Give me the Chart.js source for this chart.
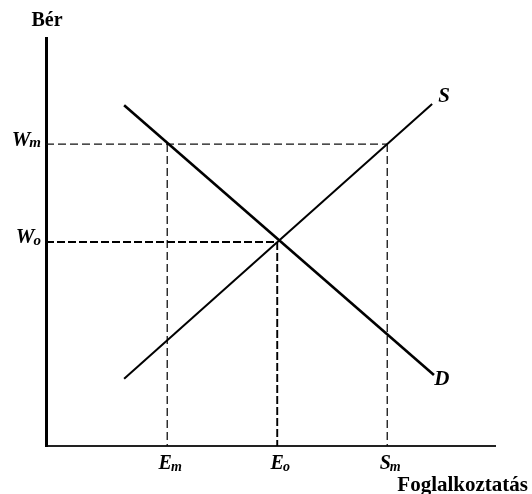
<!DOCTYPE html>
<html><head><meta charset="utf-8">
<script src="https://cdn.jsdelivr.net/npm/chart.js@4"></script>
<style>html,body{margin:0;padding:0;background:#fff}#wrap{width:532px;height:494px}</style>
</head><body><div id="wrap"><canvas id="c" width="532" height="494"></canvas></div>
<script>
// Data (economic units)
const demandX = [1.74, 8.64];
const demandY = [8.35, 1.74];
const supplyX = [1.74, 8.6];
const supplyY = [1.65, 8.38];
const wageLevels = [7.4, 5.0];        // Wm, Wo
const wageLabels = ['W', 'W'];
const wageSubs = ['m', 'o'];
const employment = [2.7, 5.15, 7.6];  // Em, Eo, Sm
const empLabels = ['E', 'E', 'S'];
const empSubs = ['m', 'o', 'm'];
const axisTitleY = 'Bér';
const axisTitleX = 'Foglalkoztatás';

const pts = (xs, ys) => xs.map((x, i) => ({x, y: ys[i]}));

const datasets = [
  {data: pts(demandX, demandY), borderColor: '#000', borderWidth: 2.6, showLine: true, pointRadius: 0},
  {data: pts(supplyX, supplyY), borderColor: '#000', borderWidth: 2, showLine: true, pointRadius: 0},
  {data: [{x: 0, y: wageLevels[0]}, {x: employment[2], y: wageLevels[0]}], borderColor: '#111', borderWidth: 1.3, borderDash: [8, 4], showLine: true, pointRadius: 0},
  {data: [{x: 0, y: wageLevels[1]}, {x: employment[1], y: wageLevels[1]}], borderColor: '#000', borderWidth: 1.8, borderDash: [8, 3], showLine: true, pointRadius: 0},
  {data: [{x: employment[0], y: wageLevels[0]}, {x: employment[0], y: 0}], borderColor: '#111', borderWidth: 1.3, borderDash: [8, 4], showLine: true, pointRadius: 0},
  {data: [{x: employment[1], y: wageLevels[1]}, {x: employment[1], y: 0}], borderColor: '#000', borderWidth: 1.9, borderDash: [8, 3], showLine: true, pointRadius: 0},
  {data: [{x: employment[2], y: wageLevels[0]}, {x: employment[2], y: 0}], borderColor: '#111', borderWidth: 1.3, borderDash: [8, 4], showLine: true, pointRadius: 0}
];

function subText(ctx, main, sub, x, y, size, align) {
  const subSize = Math.round(size * 0.72);
  ctx.font = 'italic bold ' + size + 'px "Liberation Serif", serif';
  const w1 = ctx.measureText(main).width;
  ctx.font = 'italic bold ' + subSize + 'px "Liberation Serif", serif';
  const w2 = ctx.measureText(sub).width;
  const tot = w1 + w2 - 1;
  let sx = align === 'right' ? x - tot : x - tot / 2;
  ctx.textAlign = 'left';
  ctx.textBaseline = 'middle';
  ctx.font = 'italic bold ' + size + 'px "Liberation Serif", serif';
  ctx.fillText(main, sx, y);
  ctx.font = 'italic bold ' + subSize + 'px "Liberation Serif", serif';
  ctx.fillText(sub, sx + w1 - 1, y + size * 0.15);
}

const labelPlugin = {
  id: 'labels',
  afterDraw(chart) {
    const ctx = chart.ctx;
    const xs = chart.scales.x, ys = chart.scales.y;
    ctx.save();
    ctx.fillStyle = '#000';
    wageLevels.forEach((v, i) => {
      subText(ctx, wageLabels[i], wageSubs[i], xs.left - 5, ys.getPixelForValue(v) - 4, 21, 'right');
    });
    employment.forEach((v, i) => {
      subText(ctx, empLabels[i], empSubs[i], xs.getPixelForValue(v) + 3, ys.bottom + 18, 20, 'center');
    });
    ctx.font = 'italic bold 21px "Liberation Serif", serif';
    ctx.textAlign = 'center'; ctx.textBaseline = 'middle';
    ctx.fillText('S', xs.getPixelForValue(supplyX[1]) + 12, ys.getPixelForValue(supplyY[1]) - 8);
    ctx.fillText('D', xs.getPixelForValue(demandX[1]) + 8, ys.getPixelForValue(demandY[1]) + 5);
    ctx.font = 'bold 20px "Liberation Serif", serif';
    ctx.textAlign = 'center';
    ctx.fillText(axisTitleY, xs.left + 1, 21);
    ctx.font = 'bold 21px "Liberation Serif", serif';
    ctx.textAlign = 'right';
    ctx.fillText(axisTitleX, 528, 486);
    ctx.restore();
  }
};

new Chart(document.getElementById('c'), {
  type: 'scatter',
  data: {datasets},
  options: {
    responsive: false,
    animation: false,
    layout: {padding: {left: 46, top: 38, right: 37, bottom: 48}},
    plugins: {legend: {display: false}, tooltip: {enabled: false}},
    scales: {
      x: {type: 'linear', min: 0, max: 10,
          grid: {display: false, drawTicks: false},
          border: {display: true, color: '#222', width: 2},
          ticks: {display: false}},
      y: {type: 'linear', min: 0, max: 10,
          grid: {display: false, drawTicks: false},
          border: {display: true, color: '#000', width: 3},
          ticks: {display: false}}
    }
  },
  plugins: [labelPlugin]
});
</script></body></html>
